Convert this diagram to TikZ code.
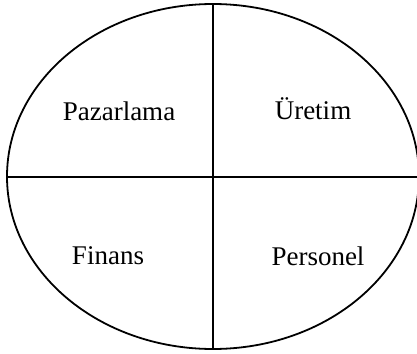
\documentclass[tikz,border=0pt]{standalone}
\usepackage{fontspec}
\setmainfont{Liberation Serif}
\usetikzlibrary{positioning}

\begin{document}
\begin{tikzpicture}[x=1pt, y=-1pt, every node/.style={font=\fontsize{27}{30}\selectfont}]
      \tikzstyle{area}=[inner sep=0pt, anchor=center]
      \useasboundingbox (0,0) rectangle (417,353);
      \begin{scope}
      \clip (0,0) rectangle (417,353);
      \draw[line width=1.8pt] (213,176.5) ellipse [x radius=206, y radius=172.5];
      \coordinate (top) at (213,4);
      \coordinate (bottom) at (213,349);
      \coordinate (left) at (7,177);
      \coordinate (right) at (419,177);
      \draw[line width=1.8pt] (top) -- (bottom);
      \draw[line width=1.8pt] (left) -- (right);
      \end{scope}
      \node[area] (paz) at (119,111) {Pazarlama};
      \node[area] (ure) at (313,109) {Üretim};
      \node[area] (fin) at (108,256) {Finans};
      \node[area] (per) at (318,256) {Personel};
    \end{tikzpicture}
\end{document}
